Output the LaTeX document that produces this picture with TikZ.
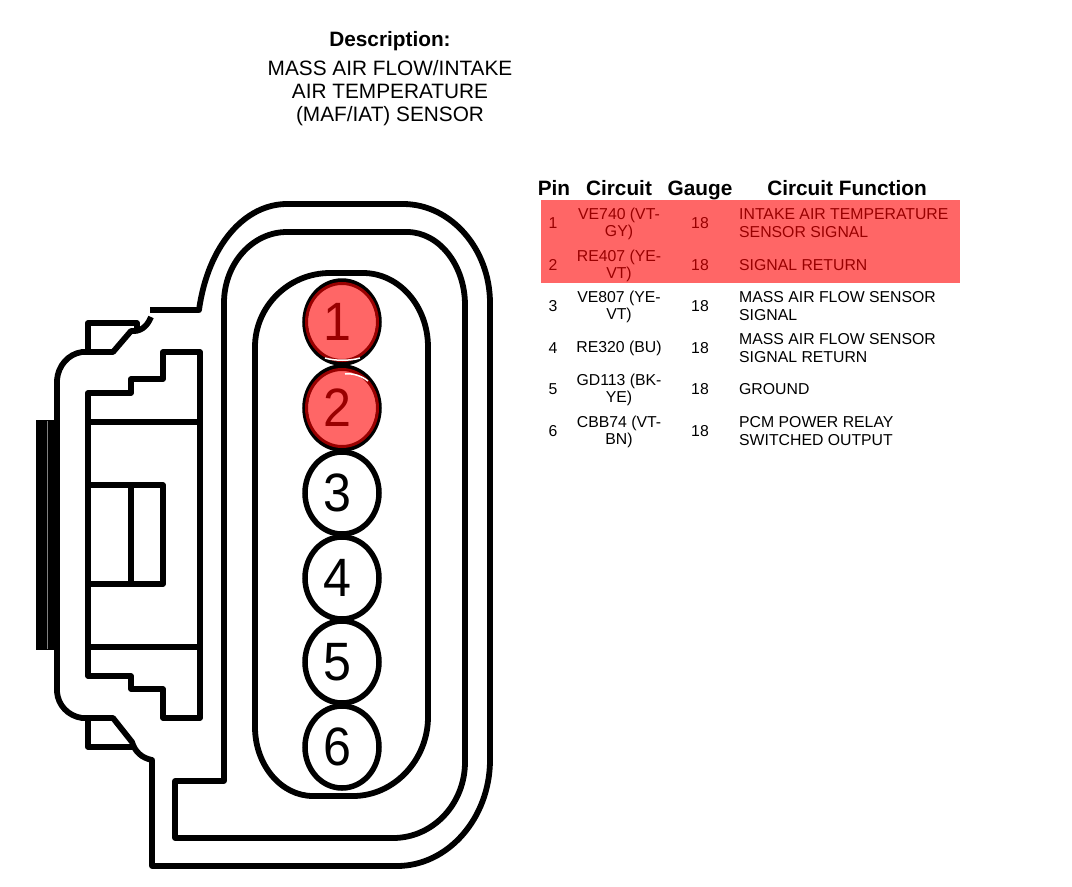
\documentclass[tikz,border=0pt]{standalone}
\usepackage{fontspec}
\usepackage{graphicx}
\usetikzlibrary{shapes.geometric}
\setmainfont{Liberation Sans}
\definecolor{hl}{HTML}{FF6666}
\definecolor{dred}{HTML}{990000}
\newcommand{\pindigit}[1]{\kern-5pt\scalebox{0.93}[1]{#1}\kern5pt}
\tikzset{
 ln/.style={line width=5.8pt,line join=round,line cap=butt,black},
 pinring/.style={ellipse,draw=black,line width=5.5pt,fill=white,minimum width=74pt,minimum height=82pt,inner sep=0pt,font=\fontsize{54}{54}\selectfont},
 pinhot/.style={pinring,fill=hl,text=dred},
 hd/.style={font=\fontsize{20.8}{20.8}\selectfont\bfseries,inner sep=0pt,anchor=base},
 ttl/.style={font=\fontsize{20.8}{23}\selectfont,align=center,inner sep=0pt},
 cell/.style={font=\fontsize{15.8}{17.5}\selectfont,inner sep=0pt,align=center,anchor=center},
 fn/.style={font=\fontsize{15.8}{17.5}\selectfont,inner sep=0pt,align=left,anchor=west},
 hot/.style={text=dred}
}
\begin{document}
\begin{tikzpicture}[x=1pt,y=-1pt]
\useasboundingbox (0,0) rectangle (1072,887);
% titles
\node[hd] (desc) at (390,46) {Description:};
\node[ttl] (title) at (390,93) {MASS AIR FLOW/INTAKE\\AIR TEMPERATURE\\(MAF/IAT) SENSOR};
% connector body
\draw[ln] (150,310) -- (199,310) .. controls (208,245) and (245,204) .. (287,204)
  -- (403,204) .. controls (451,204) and (490,249) .. (490,303)
  -- (490,760) .. controls (490,818) and (448,866) .. (397,866)
  -- (152,866) -- (152,760) .. controls (142,758) and (135,752) .. (132,742)
  -- (113,718) -- (82,718) .. controls (68,716) and (58,705) .. (57,692)
  -- (57,380) .. controls (58,366) and (68,354) .. (82,352) -- (113,352)
  -- (131,331) .. controls (140,332) and (147,327) .. (151,317);
\draw[ln] (88,352) -- (88,323) -- (137,323) -- (137,329);
\draw[ln] (88,718) -- (88,747) -- (133,747);
% second contour
\draw[ln] (224,781) -- (224,303) .. controls (224,264) and (252,232) .. (287,232)
  -- (407,232) .. controls (439,232) and (465,265) .. (465,305)
  -- (465,762) .. controls (465,804) and (433,838) .. (393,838)
  -- (175,838) -- (175,781) -- cycle;
% pill
\draw[ln] (255,347) .. controls (255,306) and (289,273) .. (330,273)
  -- (363,273) .. controls (399,273) and (428,306) .. (428,347)
  -- (428,717) .. controls (428,760) and (394,796) .. (353,796)
  -- (313,796) .. controls (281,796) and (255,765) .. (255,727) -- cycle;
% latch block
\draw[ln] (88,422) -- (88,393) -- (131,393) -- (131,379) -- (163,379) -- (163,352) -- (200,352)
  -- (200,718) -- (163,718) -- (163,689) -- (131,689) -- (131,676) -- (88,676) -- (88,422);
\draw[ln] (88,422) -- (200,422);
\draw[ln] (88,647) -- (200,647);
\draw[ln] (88,485) -- (163,485) -- (163,584) -- (88,584);
\draw[ln] (131,485) -- (131,584);
% black bar
\fill[black] (36,420) rectangle (60,650);
\draw[gray,line width=0.5pt] (47,421) -- (47,649);
% pins
\node[pinring] (p6) at (342,747) {\pindigit{6}};
\node[pinring] (p5) at (342,662) {\pindigit{5}};
\node[pinring] (p4) at (342,578) {\pindigit{4}};
\node[pinring] (p3) at (342,493) {\pindigit{3}};
\node[pinhot] (p2) at (342,408) {\pindigit{2}};
\node[pinhot] (p1) at (342,322) {\raisebox{-3pt}{\pindigit{1}}};
\draw[dred,line width=3pt] (p1.center) ellipse (35.5pt and 38.5pt);
\draw[dred,line width=3pt] (p2.center) ellipse (35.5pt and 38.5pt);
\draw[white,line width=1.5pt] (325,358) .. controls (335,361) and (350,361) .. (360,358);
\draw[white,line width=1.5pt] (345,374) .. controls (353,373) and (362,376) .. (368,381);
% table
\fill[hl] (541,200) rectangle (960,283);
\node[hd] (h1) at (554,195) {Pin};
\node[hd] (h2) at (619,195) {Circuit};
\node[hd] (h3) at (700,195) {Gauge};
\node[hd] (h4) at (847,195) {Circuit Function};
\node[cell,hot] (a1) at (553,223) {1};
\node[cell,hot] (b1) at (619,224) {VE740 (VT-\\GY)};
\node[cell,hot] (c1) at (700,223) {18};
\node[fn,hot] (d1) at (739,223) {INTAKE AIR TEMPERATURE\\SENSOR SIGNAL};
\node[cell,hot] (a2) at (553,265) {2};
\node[cell,hot] (b2) at (619,266) {RE407 (YE-\\VT)};
\node[cell,hot] (c2) at (700,265) {18};
\node[fn,hot] (d2) at (739,265) {SIGNAL RETURN};
\node[cell] (a3) at (553,306) {3};
\node[cell] (b3) at (619,307) {VE807 (YE-\\VT)};
\node[cell] (c3) at (700,306) {18};
\node[fn] (d3) at (739,306) {MASS AIR FLOW SENSOR\\SIGNAL};
\node[cell] (a4) at (553,348) {4};
\node[cell] (b4) at (619,348) {RE320 (BU)};
\node[cell] (c4) at (700,348) {18};
\node[fn] (d4) at (739,348) {MASS AIR FLOW SENSOR\\SIGNAL RETURN};
\node[cell] (a5) at (553,389) {5};
\node[cell] (b5) at (619,390) {GD113 (BK-\\YE)};
\node[cell] (c5) at (700,389) {18};
\node[fn] (d5) at (739,389) {GROUND};
\node[cell] (a6) at (553,431) {6};
\node[cell] (b6) at (619,432) {CBB74 (VT-\\BN)};
\node[cell] (c6) at (700,431) {18};
\node[fn] (d6) at (739,431) {PCM POWER RELAY\\SWITCHED OUTPUT};
\end{tikzpicture}
\end{document}
